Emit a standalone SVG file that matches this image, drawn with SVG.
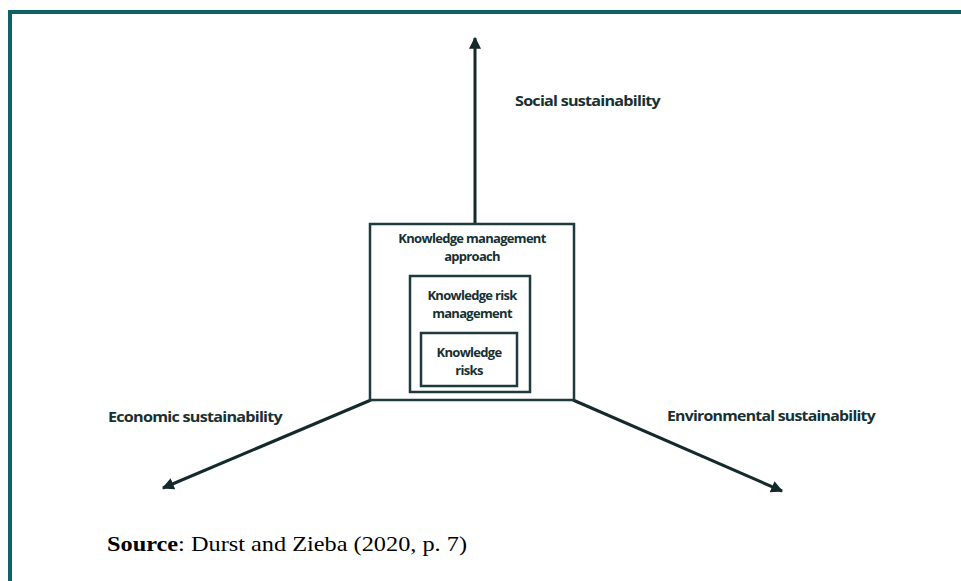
<svg xmlns="http://www.w3.org/2000/svg" width="961" height="581" viewBox="0 0 961 581">
<defs>
<marker id="ah" viewBox="0 0 10 10" refX="9" refY="5" markerWidth="4" markerHeight="4" orient="auto" markerUnits="strokeWidth">
<path d="M0,0 L10,5 L0,10 z" fill="#13292b"/>
</marker>
<style>
.box{fill:none;stroke:#1d3a3c;stroke-width:2.5}
.lbl{font-family:"Open Sans","Liberation Sans",sans-serif;font-weight:700;fill:#173032;letter-spacing:-0.7px}
.ax{font-size:15px}
.bx{font-size:13px;text-anchor:middle}
.conn{stroke:#13292b;stroke-width:3;fill:none}
</style>
</defs>
<rect width="961" height="581" fill="#ffffff"/>
<path d="M10,581 L10,12 L961,12" fill="none" stroke="#0f6166" stroke-width="4"/>
<g id="connectors">
<line class="conn" x1="475" y1="223" x2="475" y2="38" marker-end="url(#ah)"/>
<line class="conn" x1="371" y1="400" x2="163" y2="488" marker-end="url(#ah)"/>
<line class="conn" x1="573" y1="400" x2="782" y2="491" marker-end="url(#ah)"/>
</g>
<g id="outer">
<rect class="box" x="370" y="224" width="204" height="176"/>
<text class="lbl bx" x="472" y="243">Knowledge management</text>
<text class="lbl bx" x="472" y="261">approach</text>
</g>
<g id="middle">
<rect class="box" x="410" y="276" width="120" height="116"/>
<text class="lbl bx" x="472" y="300">Knowledge risk</text>
<text class="lbl bx" x="472" y="318">management</text>
</g>
<g id="inner">
<rect class="box" x="421" y="333" width="96" height="53"/>
<text class="lbl bx" x="469" y="357">Knowledge</text>
<text class="lbl bx" x="469" y="375">risks</text>
</g>
<g id="social"><text class="lbl ax" x="515" y="106" textLength="145" lengthAdjust="spacingAndGlyphs">Social sustainability</text></g>
<g id="economic"><text class="lbl ax" x="108" y="422" textLength="174" lengthAdjust="spacingAndGlyphs">Economic sustainability</text></g>
<g id="environmental"><text class="lbl ax" x="667" y="421" textLength="208" lengthAdjust="spacingAndGlyphs">Environmental sustainability</text></g>
<text x="107" y="551" font-family="Liberation Serif,serif" font-size="22" fill="#000" textLength="360" lengthAdjust="spacingAndGlyphs"><tspan font-weight="bold">Source</tspan>: Durst and Zieba (2020, p. 7)</text>
</svg>
